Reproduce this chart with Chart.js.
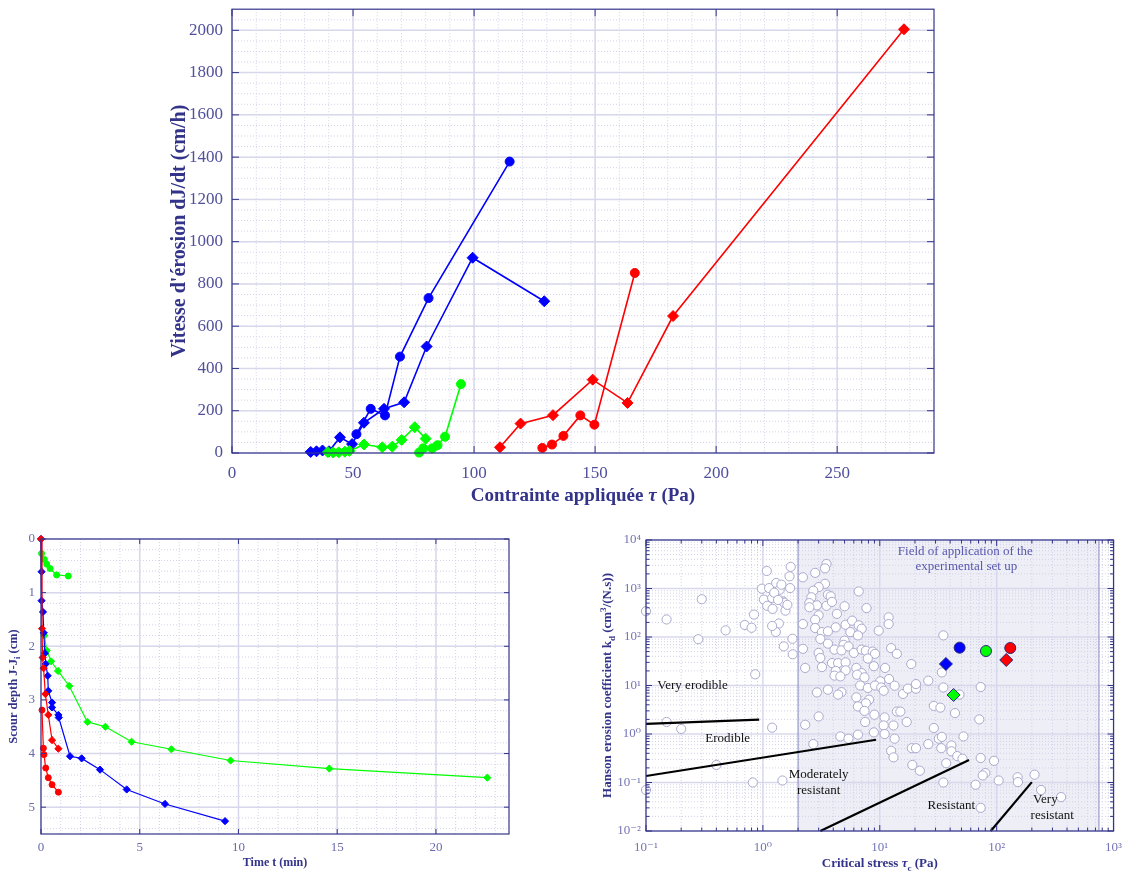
<!DOCTYPE html>
<html lang="fr">
<head>
<meta charset="UTF-8">
<title>Érosion - essais</title>
<script src="https://cdn.jsdelivr.net/npm/chart.js"></script>
<style>
    body { margin: 0; background: #fff; width: 1122px; height: 874px; position: relative; overflow: hidden; }
    canvas { position: absolute; }
    #rateChart { left: 163px; top: -10px; }
    #depthChart { left: 0; top: 520px; }
    #hansonChart { left: 596px; top: 520px; }
</style>
</head>
<body>
<canvas id="rateChart" width="787" height="520"></canvas>
<canvas id="depthChart" width="530" height="354"></canvas>
<canvas id="hansonChart" width="535" height="354"></canvas>

<script>
    // --- Vitesse d'érosion en fonction de la contrainte appliquée (Pa, cm/h) ---
    const tauBlueD  = [32.5, 34.9, 37.4, 40.1, 44.6, 49.6, 54.5, 62.8, 71.1, 80.4, 99.4, 129.0];
    const rateBlueD = [5, 8, 12, 8, 74, 42, 143, 209, 240, 504, 924, 718];
    const tauBlueC  = [51.4, 57.3, 63.2, 69.4, 81.2, 114.7];
    const rateBlueC = [89, 209, 178, 456, 733, 1379];
    const tauGreenD  = [39.6, 41.8, 44.1, 46.6, 48.5, 54.5, 62.1, 66.2, 70.1, 75.5, 80.0];
    const rateGreenD = [4, 2, 3, 6, 10, 40, 27, 30, 62, 122, 68];
    const tauGreenC  = [77.3, 79.0, 82.7, 84.9, 88.0, 94.6];
    const rateGreenC = [2, 22, 22, 37, 77, 326];
    const tauRedD  = [110.7, 119.2, 132.6, 149.0, 163.4, 182.2, 277.6];
    const rateRedD = [27, 139, 179, 347, 237, 648, 2005];
    const tauRedC  = [128.2, 132.2, 136.9, 143.9, 149.7, 166.4];
    const rateRedC = [24, 40, 81, 178, 134, 852];

    // --- Scour depth vs time (min, cm) ---
    const tBlueD = [0, 0.03, 0.03, 0.10, 0.14, 0.20, 0.24, 0.34, 0.37, 0.56, 0.56, 0.88, 0.90, 1.47, 2.06, 2.99, 4.34, 6.28, 9.32];
    const dBlueD = [0, 0.61, 1.15, 1.36, 1.75, 2.13, 2.33, 2.55, 2.83, 3.05, 3.14, 3.28, 3.33, 4.05, 4.09, 4.30, 4.67, 4.94, 5.26];
    const tGreenD = [0.17, 0.29, 0.51, 0.86, 1.43, 2.35, 3.26, 4.59, 6.60, 9.60, 14.6, 22.6];
    const dGreenD = [1.80, 2.08, 2.28, 2.46, 2.74, 3.41, 3.50, 3.78, 3.92, 4.13, 4.28, 4.45];
    const tGreenC = [0.03, 0.17, 0.29, 0.46, 0.79, 1.38];
    const dGreenC = [0.27, 0.38, 0.47, 0.55, 0.67, 0.69];
    const tRedD = [0, 0.05, 0.08, 0.13, 0.22, 0.37, 0.56, 0.88];
    const dRedD = [0, 1.67, 2.21, 2.41, 2.89, 3.28, 3.75, 3.91];
    const tRedC = [0.05, 0.12, 0.15, 0.24, 0.37, 0.56, 0.88];
    const dRedC = [3.19, 3.90, 4.02, 4.27, 4.45, 4.58, 4.72];

    // --- Hanson kd vs critical stress: literature soils [tau_c (Pa), kd (cm3/(N.s))] ---
    const literature = [
        [0.10, 340], [0.15, 230], [0.30, 600], [0.28, 90], [0.48, 137], [0.70, 177], [0.80, 155], [0.84, 290],
        [0.86, 17], [1.08, 2300], [0.98, 990], [1.02, 590], [1.13, 1020], [1.09, 440], [1.20, 640], [1.21, 380],
        [1.30, 1300], [1.39, 940], [1.44, 1200], [1.73, 2800], [1.69, 1780], [1.71, 1020], [1.49, 540], [1.52, 510],
        [1.56, 350], [1.37, 190], [1.29, 127], [1.20, 169], [1.79, 92], [1.51, 64], [1.80, 44], [1.20, 1.35],
        [0.15, 1.77], [0.20, 1.27], [0.40, 0.23], [0.82, 0.10], [1.47, 0.11], [0.10, 0.07], [1.25, 820], [1.62, 460],
        [1.35, 580],
        [3.5, 3200], [3.4, 2600], [2.2, 1700], [2.8, 2100], [3.4, 1250], [3.0, 1070], [2.7, 900], [3.6, 745],
        [2.6, 660], [2.5, 500], [2.9, 450], [3.5, 440], [3.8, 690], [2.5, 410], [3.9, 530], [5.0, 430],
        [4.3, 300], [3.0, 280], [6.6, 870], [7.7, 395], [2.2, 185], [2.8, 227], [2.8, 153], [4.2, 158],
        [3.2, 126], [3.6, 131], [5.1, 179], [5.8, 217], [6.6, 174], [7.0, 148], [5.6, 126], [6.5, 108],
        [11.9, 254], [11.9, 185], [9.8, 135], [3.1, 91], [3.6, 73], [5.0, 84], [4.9, 69], [4.1, 55],
        [2.2, 57], [3.0, 47], [4.7, 53], [5.4, 64], [6.0, 47], [7.0, 55], [7.6, 52], [8.7, 50],
        [9.1, 45], [12.5, 59], [14.0, 45], [3.1, 37], [3.9, 29], [4.4, 29], [5.1, 30], [7.9, 36],
        [3.2, 24], [2.3, 23], [4.2, 20], [5.1, 20.5], [6.3, 23], [8.9, 25], [11.1, 23], [4.1, 16],
        [4.6, 15.4], [7.0, 18], [6.4, 16.7], [7.4, 14.7], [12.0, 13.6], [10.1, 12.2], [18.6, 27.7], [26, 12.6],
        [6.8, 10], [7.9, 8.9], [9.1, 10], [10.3, 9.1], [13.4, 9.9], [10.8, 7.8], [15.8, 6.7], [17.4, 8.6],
        [20.4, 8.6], [20.4, 10.7], [2.9, 7.2], [3.6, 8.2], [4.7, 7.3], [6.3, 5.7], [8.1, 5.1], [7.6, 4.3],
        [6.5, 3.7], [7.4, 3.0], [4.4, 6.5], [9.0, 2.5], [11, 2.2], [14, 2.9], [15, 2.9], [7.5, 1.77],
        [10.8, 1.5], [13.1, 1.5], [3.0, 2.3], [2.3, 1.55], [17, 1.77], [4.6, 0.89], [5.4, 0.80], [6.5, 0.97],
        [8.9, 1.08], [11, 1.0], [13.4, 0.80], [2.7, 0.62], [12.5, 0.45], [13.1, 0.33], [18.8, 0.51], [20.4, 0.51],
        [26, 0.62], [29, 1.33], [29, 3.8], [33, 3.5], [35, 108], [34, 18.6], [35, 9.1], [32, 0.80],
        [34, 0.87], [33.6, 0.51], [41, 0.58], [41, 0.44], [46, 0.35], [37, 0.25], [19, 0.23], [22, 0.175],
        [35, 0.10], [44, 2.7],
        [48, 6.5], [73, 9.3], [71, 2.0], [52, 0.89], [51, 0.31], [73, 0.32], [95, 0.28], [80, 0.157],
        [76, 0.14], [66, 0.09], [104, 0.11], [151, 0.128], [152, 0.102], [211, 0.145], [240, 0.07], [356, 0.05],
        [73, 0.03]
    ];
    // erodibility class limits
    const limVeryErodible = [[0.1, 1.61], [0.93, 1.97]];
    const limErodible     = [[0.1, 0.136], [9.3, 0.76]];
    const limModerate     = [[3.1, 0.01], [58, 0.29]];
    const limResistant    = [[89, 0.01], [200, 0.102]];
    // present tests (blue, green, red)
    const testCircleTau  = [48.2, 81, 130.7];
    const testCircleKd   = [60.2, 51.4, 59.3];
    const testDiamondTau = [36.8, 42.8, 120.8];
    const testDiamondKd  = [27.8, 6.37, 33.6];
    // interval covered by the experimental set up (Pa)
    const setupRange = [2, 750];

    const SERIF = '"Liberation Serif", "DejaVu Serif", serif';
    const FRAME = '#34348a';
    const TITLE = '#33338a';
    const sup = {'-': '⁻', '0': '⁰', '1': '¹', '2': '²', '3': '³', '4': '⁴'};

    function pts(xs, ys) {
        return xs.map((v, i) => ({x: v, y: ys[i]}));
    }

    function serie(data, color, shape, r, w) {
        return {
            data: data, showLine: true, clip: false,
            borderColor: color, backgroundColor: color, borderWidth: w,
            pointStyle: shape, pointRadius: r, pointHoverRadius: r, pointBorderWidth: 1
        };
    }

    function isPow10(v) {
        const e = Math.log10(v);
        return Math.abs(e - Math.round(e)) < 1e-6;
    }

    function majorValues(s) {
        if (s.type === 'logarithmic') {
            const out = [];
            for (let e = Math.round(Math.log10(s.min)); e <= Math.round(Math.log10(s.max)); e++) out.push(Math.pow(10, e));
            return out;
        }
        return s.ticks.map(t => t.value);
    }

    function minorValues(s, step) {
        const out = [];
        if (!step) return out;
        if (step === 'log') {
            for (let e = Math.floor(Math.log10(s.min)); e < Math.ceil(Math.log10(s.max)); e++) {
                for (let k = 2; k <= 9; k++) {
                    const v = k * Math.pow(10, e);
                    if (v > s.min && v < s.max) out.push(v);
                }
            }
            return out;
        }
        for (let i = 1; s.min + i * step < s.max - 1e-9; i++) out.push(s.min + i * step);
        return out;
    }

    function seg(ctx, x0, y0, x1, y1) {
        ctx.beginPath();
        ctx.moveTo(x0, y0);
        ctx.lineTo(x1, y1);
        ctx.stroke();
    }

    // axis title with italic / sub / sup pieces
    function richText(ctx, parts, cx, cy, size, vertical) {
        ctx.save();
        ctx.translate(cx, cy);
        if (vertical) ctx.rotate(-Math.PI / 2);
        const fontOf = p => (p.it ? 'italic ' : '') + 'bold ' + ((p.sub || p.sup) ? size * 0.7 : size) + 'px ' + SERIF;
        let w = 0;
        parts.forEach(p => { ctx.font = fontOf(p); w += ctx.measureText(p.t).width; });
        let x = -w / 2;
        ctx.fillStyle = TITLE;
        ctx.textBaseline = 'alphabetic';
        ctx.textAlign = 'left';
        parts.forEach(p => {
            ctx.font = fontOf(p);
            const dy = p.sub ? size * 0.25 : (p.sup ? -size * 0.4 : 0);
            ctx.fillText(p.t, x, size * 0.33 + dy);
            x += ctx.measureText(p.t).width;
        });
        ctx.restore();
    }

    // MATLAB-like box: dotted minor grid, light major grid, inward ticks on all sides
    const boxAxes = {
        id: 'boxAxes',
        beforeDatasetsDraw(chart, args, o) {
            const {ctx, chartArea: a} = chart;
            const x = chart.scales.x, y = chart.scales.y;
            ctx.save();
            if (o.shade) {
                const x0 = x.getPixelForValue(o.shade[0]), x1 = x.getPixelForValue(o.shade[1]);
                ctx.fillStyle = '#eeeef6';
                ctx.fillRect(x0, a.top, x1 - x0, a.bottom - a.top);
            }
            ctx.lineWidth = 1;
            ctx.strokeStyle = '#d2d2e8';
            ctx.setLineDash([1, 2]);
            minorValues(x, o.xMinor).forEach(v => { const p = x.getPixelForValue(v); seg(ctx, p, a.top, p, a.bottom); });
            minorValues(y, o.yMinor).forEach(v => { const p = y.getPixelForValue(v); seg(ctx, a.left, p, a.right, p); });
            ctx.setLineDash([]);
            ctx.strokeStyle = '#d8d8ec';
            ctx.lineWidth = 1.5;
            majorValues(x).forEach(v => { const p = x.getPixelForValue(v); seg(ctx, p, a.top, p, a.bottom); });
            majorValues(y).forEach(v => { const p = y.getPixelForValue(v); seg(ctx, a.left, p, a.right, p); });
            if (o.shade) {
                ctx.strokeStyle = '#8a8ac2';
                ctx.lineWidth = 1;
                o.shade.forEach(v => { const p = x.getPixelForValue(v); seg(ctx, p, a.top, p, a.bottom); });
            }
            ctx.restore();
        },
        afterDatasetsDraw(chart, args, o) {
            const {ctx, chartArea: a} = chart;
            const x = chart.scales.x, y = chart.scales.y;
            const L = o.tickLen || 6, Lm = 3.5;
            ctx.save();
            (o.notes || []).forEach(n => {
                ctx.font = n.size + 'px ' + SERIF;
                ctx.fillStyle = n.color;
                ctx.textAlign = 'center';
                ctx.textBaseline = 'middle';
                ctx.fillText(n.text, x.getPixelForValue(n.x), y.getPixelForValue(n.y));
            });
            ctx.strokeStyle = FRAME;
            ctx.lineWidth = 1;
            majorValues(x).forEach(v => {
                const p = x.getPixelForValue(v);
                seg(ctx, p, a.bottom, p, a.bottom - L);
                seg(ctx, p, a.top, p, a.top + L);
            });
            majorValues(y).forEach(v => {
                const p = y.getPixelForValue(v);
                seg(ctx, a.left, p, a.left + L, p);
                seg(ctx, a.right, p, a.right - L, p);
            });
            if (o.minorTicks) {
                minorValues(x, o.xMinor).forEach(v => {
                    const p = x.getPixelForValue(v);
                    seg(ctx, p, a.bottom, p, a.bottom - Lm);
                    seg(ctx, p, a.top, p, a.top + Lm);
                });
                minorValues(y, o.yMinor).forEach(v => {
                    const p = y.getPixelForValue(v);
                    seg(ctx, a.left, p, a.left + Lm, p);
                    seg(ctx, a.right, p, a.right - Lm, p);
                });
            }
            ctx.lineWidth = 1.2;
            ctx.strokeRect(a.left, a.top, a.right - a.left, a.bottom - a.top);
            ctx.restore();
            if (o.xTitle) richText(ctx, o.xTitle.parts, (a.left + a.right) / 2, o.xTitle.y, o.xTitle.size, false);
            if (o.yTitle) richText(ctx, o.yTitle.parts, o.yTitle.x, o.yTitle.cy || (a.top + a.bottom) / 2, o.yTitle.size, true);
        }
    };

    const plainLabel = v => String(v);

    function axis(extra, size, color, padding, fit) {
        const ticks = Object.assign({
            font: {family: SERIF, size: size}, color: color, padding: padding,
            maxRotation: 0, includeBounds: false, callback: plainLabel
        }, extra.ticks || {});
        return Object.assign({
            type: 'linear',
            grid: {display: false, drawTicks: false},
            border: {display: false},
            afterFit: fit
        }, extra, {ticks: ticks});
    }

    const common = {
        responsive: false,
        animation: false,
        events: [],
        plugins: {legend: {display: false}, tooltip: {enabled: false}}
    };

    // ---------- Vitesse d'érosion ----------
    new Chart(document.getElementById('rateChart'), {
        type: 'scatter',
        data: {
            datasets: [
                serie(pts(tauGreenD, rateGreenD), '#00ff00', 'rectRot', 5.5, 1.6),
                serie(pts(tauGreenC, rateGreenC), '#00ff00', 'circle', 4.5, 1.6),
                serie(pts(tauBlueD, rateBlueD), '#0000ff', 'rectRot', 5.5, 1.6),
                serie(pts(tauBlueC, rateBlueC), '#0000ff', 'circle', 4.5, 1.6),
                serie(pts(tauRedD, rateRedD), '#ff0000', 'rectRot', 5.5, 1.6),
                serie(pts(tauRedC, rateRedC), '#ff0000', 'circle', 4.5, 1.6)
            ]
        },
        options: Object.assign({}, common, {
            layout: {padding: {top: 0, right: 16, left: 0, bottom: 0}},
            scales: {
                x: axis({min: 0, max: 290, ticks: {stepSize: 50}}, 17, '#50509c', 10, s => { s.height = 57; }),
                y: axis({min: 0, max: 2100, ticks: {stepSize: 200}}, 17, '#50509c', 9, s => { s.width = 69; })
            },
            plugins: Object.assign({}, common.plugins, {
                boxAxes: {
                    xMinor: 10, yMinor: 50, tickLen: 7,
                    xTitle: {parts: [{t: 'Contrainte appliquée '}, {t: 'τ', it: true}, {t: ' (Pa)'}], y: 505, size: 19},
                    yTitle: {parts: [{t: "Vitesse d'érosion dJ/dt (cm/h)"}], x: 15, size: 20}
                }
            })
        }),
        plugins: [boxAxes]
    });

    // ---------- Scour depth ----------
    new Chart(document.getElementById('depthChart'), {
        type: 'scatter',
        data: {
            datasets: [
                serie(pts(tRedD, dRedD), '#ff0000', 'rectRot', 3.6, 1.2),
                serie(pts(tRedC, dRedC), '#ff0000', 'circle', 3, 1.2),
                serie(pts(tBlueD, dBlueD), '#0000ff', 'rectRot', 3.6, 1.2),
                serie(pts(tGreenD, dGreenD), '#00ff00', 'rectRot', 3.6, 1.2),
                serie(pts(tGreenC, dGreenC), '#00ff00', 'circle', 3, 1.2)
            ]
        },
        options: Object.assign({}, common, {
            layout: {padding: {top: 19, right: 21, left: 0, bottom: 0}},
            scales: {
                x: axis({min: 0, max: 23.7, ticks: {stepSize: 5}}, 13, '#6a6aac', 6, s => { s.height = 40; }),
                y: axis({min: 0, max: 5.5, reverse: true, ticks: {stepSize: 1}}, 13, '#6a6aac', 6, s => { s.width = 41; })
            },
            plugins: Object.assign({}, common.plugins, {
                boxAxes: {
                    xMinor: 1, yMinor: 0.2, tickLen: 5,
                    xTitle: {parts: [{t: 'Time t (min)'}], y: 342, size: 12},
                    yTitle: {parts: [{t: 'Scour depth J-J'}, {t: 'i', sub: true}, {t: ' (cm)'}], x: 13, size: 12.5}
                }
            })
        }),
        plugins: [boxAxes]
    });

    // ---------- Hanson erosion coefficient ----------
    const pow10Label = v => isPow10(v) ? '10' + String(Math.round(Math.log10(v))).split('').map(c => sup[c]).join('') : '';
    const limitLine = d => ({
        data: d.map(p => ({x: p[0], y: p[1]})), showLine: true, clip: false,
        borderColor: '#000', borderWidth: 2.2, pointRadius: 0, order: 1
    });
    const testSet = (x, y, color, shape, r) => ({
        data: [{x: x, y: y}], clip: false, backgroundColor: color, borderColor: '#2a2a7a',
        borderWidth: 1, pointStyle: shape, pointRadius: r, pointHoverRadius: r, order: 0
    });

    new Chart(document.getElementById('hansonChart'), {
        type: 'scatter',
        data: {
            datasets: [
                testSet(testCircleTau[0], testCircleKd[0], '#0000ff', 'circle', 5.5),
                testSet(testCircleTau[1], testCircleKd[1], '#00ff00', 'circle', 5.5),
                testSet(testCircleTau[2], testCircleKd[2], '#ff0000', 'circle', 5.5),
                testSet(testDiamondTau[0], testDiamondKd[0], '#0000ff', 'rectRot', 6.5),
                testSet(testDiamondTau[1], testDiamondKd[1], '#00ff00', 'rectRot', 6.5),
                testSet(testDiamondTau[2], testDiamondKd[2], '#ff0000', 'rectRot', 6.5),
                limitLine(limVeryErodible),
                limitLine(limErodible),
                limitLine(limModerate),
                limitLine(limResistant),
                {
                    data: literature.map(p => ({x: p[0], y: p[1]})), clip: false, order: 2,
                    backgroundColor: '#ffffff', borderColor: '#a9a9cf', borderWidth: 1,
                    pointStyle: 'circle', pointRadius: 4.6, pointHoverRadius: 4.6
                }
            ]
        },
        options: Object.assign({}, common, {
            layout: {padding: {top: 20, right: 0, left: 0, bottom: 0}},
            scales: {
                x: axis({type: 'logarithmic', min: 0.1, max: 1000, ticks: {autoSkip: false, callback: pow10Label}}, 13, '#7474b6', 9, s => { s.height = 43; }),
                y: axis({type: 'logarithmic', min: 0.01, max: 10000, ticks: {autoSkip: false, callback: pow10Label}}, 13, '#7474b6', 5, s => { s.width = 50; })
            },
            plugins: Object.assign({}, common.plugins, {
                boxAxes: {
                    xMinor: 'log', yMinor: 'log', minorTicks: true, tickLen: 6,
                    shade: setupRange,
                    notes: [
                        {text: 'Field of application of the', x: 54, y: 5740, size: 13, color: '#5858ae'},
                        {text: 'experimental set up', x: 55, y: 2810, size: 13, color: '#5858ae'},
                        {text: 'Very erodible', x: 0.25, y: 9.9, size: 13, color: '#111'},
                        {text: 'Erodible', x: 0.5, y: 0.8, size: 13, color: '#111'},
                        {text: 'Moderately', x: 3.0, y: 0.145, size: 13, color: '#111'},
                        {text: 'resistant', x: 3.0, y: 0.068, size: 13, color: '#111'},
                        {text: 'Resistant', x: 41, y: 0.0335, size: 13, color: '#111'},
                        {text: 'Very', x: 261, y: 0.0446, size: 13, color: '#111'},
                        {text: 'resistant', x: 299, y: 0.0209, size: 13, color: '#111'}
                    ],
                    xTitle: {parts: [{t: 'Critical stress '}, {t: 'τ', it: true}, {t: 'c', sub: true}, {t: ' (Pa)'}], y: 343, size: 13},
                    yTitle: {parts: [{t: 'Hanson erosion coefficient k'}, {t: 'd', sub: true}, {t: ' (cm'}, {t: '3', sup: true}, {t: '/(N.s))'}], x: 11, size: 13}
                }
            })
        }),
        plugins: [boxAxes]
    });
</script>
</body>
</html>
